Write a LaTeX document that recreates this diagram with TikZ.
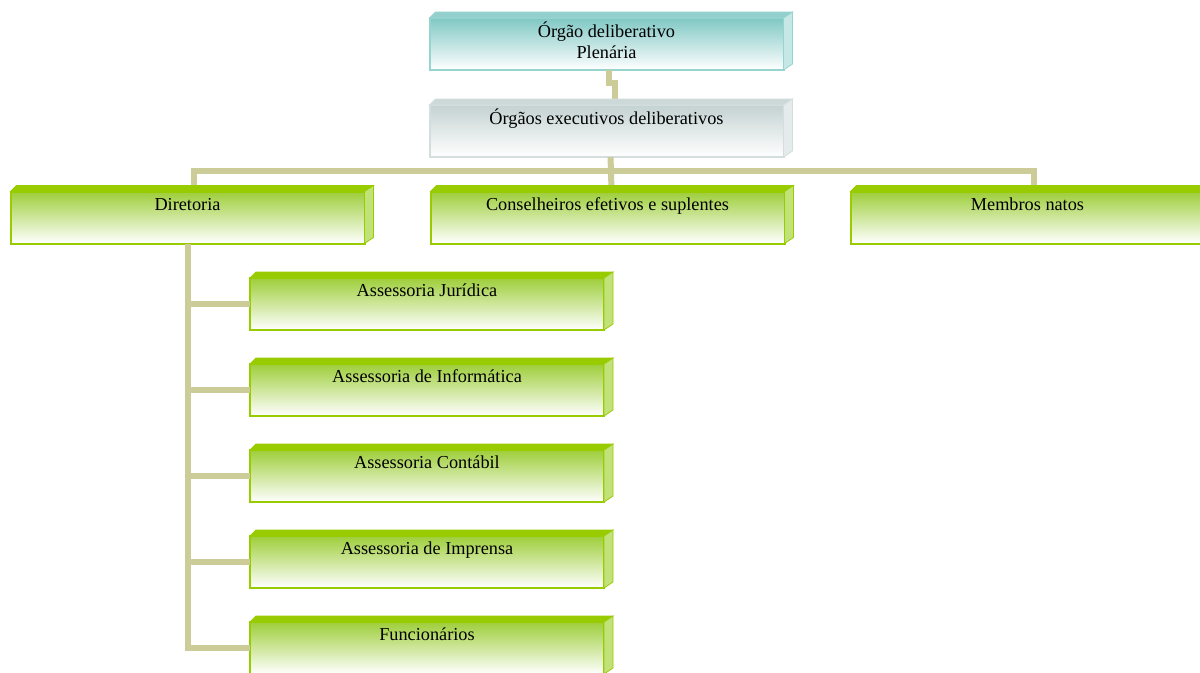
\documentclass[tikz,border=0pt]{standalone}
\usepackage{fontspec}
\setmainfont{Liberation Serif}
\definecolor{grn}{RGB}{153,204,0}
\definecolor{grntop}{RGB}{158,206,58}
\definecolor{grnside}{RGB}{178,218,88}
\definecolor{tealb}{RGB}{150,212,208}
\definecolor{tealtop}{RGB}{128,200,196}
\definecolor{greyb}{RGB}{212,222,222}
\definecolor{greytop}{RGB}{196,210,210}
\definecolor{conn}{RGB}{204,204,153}
\newcommand\boxtxt[1]{\vbox to 39pt{\hsize=265.5pt\centering\vskip 2.9pt\strut #1\par\vfil}}
\newcommand\threed[4]{%
  \filldraw[draw=#4, fill=#2, line width=0.6pt] (#1.north west) -- ++(6,-6) -- ([shift={(9,-6)}]#1.north east) -- (#1.north east) -- cycle;
  \filldraw[draw=#4, fill=#3, line width=0.6pt] (#1.north east) -- ++(9,-6) -- ([shift={(9,-6)}]#1.south east) -- (#1.south east) -- cycle;}
\tikzset{
  org/.style={rectangle, inner sep=0pt, outer sep=0pt, line width=1.5pt,
    minimum width=265.5pt, minimum height=39pt,
    font=\fontsize{13.7pt}{15.75pt}\selectfont},
  gbox/.style={org, draw=grn, top color=grntop, middle color=grntop!40!white, bottom color=white},
  tbox/.style={org, draw=tealb, top color=tealtop, middle color=tealtop!40!white, bottom color=white},
  ybox/.style={org, draw=greyb, top color=greytop, middle color=greytop!45!white, bottom color=white},
  link/.style={draw=conn, line width=4.5pt}
}
\begin{document}
\begin{tikzpicture}[x=0.75pt,y=-0.75pt]
\useasboundingbox (0,0) rectangle (1200,672);
\fill[white] (0,0) rectangle (1200,672);
\coordinate (trunk) at (188,0);
\coordinate (dcol) at (194,0);
\coordinate (mcol) at (1034,0);
\coordinate (bus) at (611,171);
\node[tbox] (plen) at (606.5,44) {\boxtxt{Órgão deliberativo\\Plenária}};
\node[ybox] (exec) at (606.5,131) {\boxtxt{Órgãos executivos deliberativos}};
\node[gbox] (dir) at (187.5,217.5) {\boxtxt{Diretoria}};
\node[gbox] (cons) at (607.5,217.5) {\boxtxt{Conselheiros efetivos e suplentes}};
\node[gbox] (memb) at (1027.5,217.5) {\boxtxt{Membros natos}};
\node[gbox] (c1) at (427,304) {\boxtxt{Assessoria Jurídica}};
\node[gbox] (c2) at (427,390) {\boxtxt{Assessoria de Informática}};
\node[gbox] (c3) at (427,476) {\boxtxt{Assessoria Contábil}};
\node[gbox] (c4) at (427,562) {\boxtxt{Assessoria de Imprensa}};
\node[gbox] (c5) at (427,648) {\boxtxt{Funcionários}};
\draw[link] ([xshift=1.5pt]plen.south) -- ++(0,13) -- ++(6,0) -- ([xshift=6pt]exec.north);
\draw[link] ([xshift=3pt]exec.south) -- (bus);
\draw[link] (dcol |- dir.north) |- (bus) -| (mcol |- memb.north);
\draw[link] (bus) -- ([xshift=3pt]cons.north);
\draw[link] (trunk |- dir.south) -- (trunk |- c5.west) -- (c5.west);
\foreach \c in {c1,c2,c3,c4}{\draw[link] (trunk |- \c.west) -- (\c.west);}
\threed{plen}{tealtop!85!white}{tealb!55!white}{tealb}
\threed{exec}{greytop!85!white}{greyb!60!white}{greyb}
\foreach \n in {dir,cons,memb,c1,c2,c3,c4,c5}{\threed{\n}{grn}{grnside!80!white}{grn}}
\end{tikzpicture}
\end{document}
